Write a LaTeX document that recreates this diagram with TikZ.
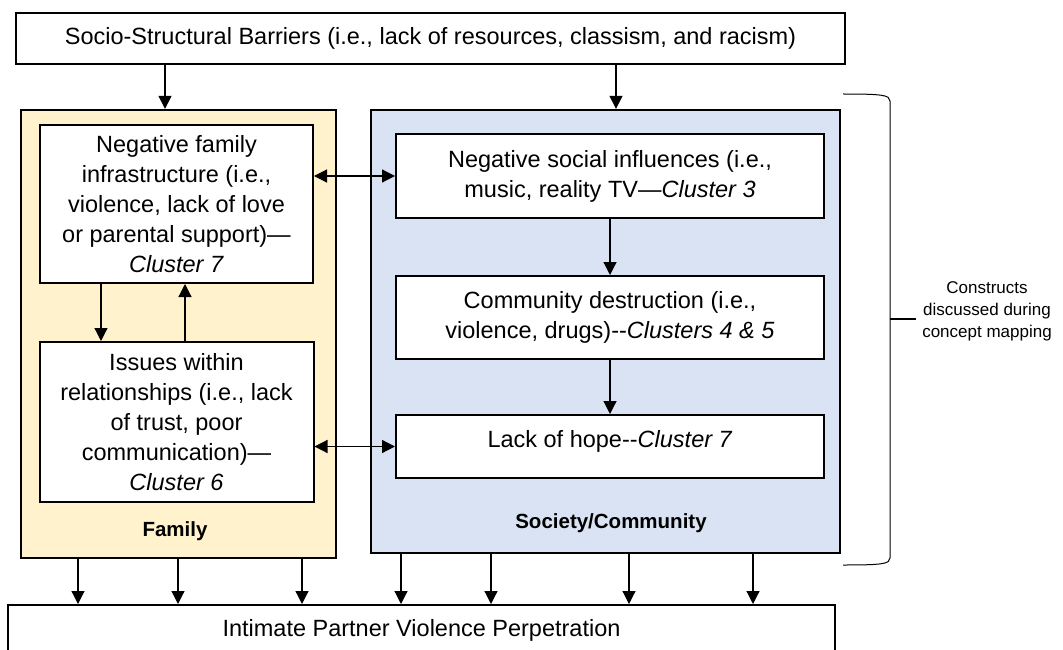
\documentclass[tikz,border=0pt]{standalone}
\usepackage{fontspec}
\setmainfont{Liberation Sans}
\usepackage{tikz}
\usepackage{xcolor}
\usetikzlibrary{shapes,arrows,positioning,calc,arrows.meta}
\definecolor{familyyellow}{RGB}{255,242,204}
\definecolor{societyblue}{RGB}{218,227,243}

\begin{document}
\begin{tikzpicture}[x=1pt, y=-1pt,
    box/.style={draw, rectangle, line width=2pt, fill=white, align=center, inner sep=0pt, font=\fontsize{23.5}{30}\selectfont},
    group/.style={draw, rectangle, line width=2.3pt},
    grouplabel/.style={font=\fontsize{20.5}{24}\selectfont\bfseries},
    arr/.style={-{Triangle[width=13pt,length=13pt]}, line width=1.2pt},
    dblarr/.style={{Triangle[width=13pt,length=13pt]}-{Triangle[width=13pt,length=13pt]}, line width=1.2pt}]
  \useasboundingbox (0,0) rectangle (1063,650);
  % groups
  \node[group, fill=familyyellow, minimum width=315pt, minimum height=448pt] (family) at (178.5,334) {};
  \node[group, fill=societyblue, minimum width=469pt, minimum height=443pt] (society) at (605.5,331.5) {};
  \node[grouplabel] (familylbl) at (175,531) {Family};
  \node[grouplabel] (societylbl) at (611,523) {Society/Community};
  % top and bottom
  \node[box, minimum width=829pt, minimum height=51pt] (barriers) at (430.5,38.5) {Socio-Structural Barriers (i.e., lack of resources, classism, and racism)};
  \node[box, minimum width=827pt, minimum height=50pt] (ipv) at (421.5,630) {Intimate Partner Violence Perpetration};
  % family boxes
  \node[box, minimum width=273pt, minimum height=158pt] (negfam) at (176.5,204) {Negative family\\infrastructure (i.e.,\\violence, lack of love\\or parental support)---\\\textit{Cluster 7}};
  \node[box, minimum width=274pt, minimum height=160pt, below=57pt of negfam] (issues) {Issues within\\relationships (i.e., lack\\of trust, poor\\communication)---\\\textit{Cluster 6}};
  % society boxes
  \node[box, minimum width=428pt, minimum height=84pt] (social) at (610,176) {Negative social influences (i.e.,\\music, reality TV---\textit{Cluster 3}};
  \node[box, minimum width=428pt, minimum height=83pt, below=56pt of social] (community) {Community destruction (i.e.,\\violence, drugs)-{}-\textit{Clusters 4 \& 5}};
  \node[box, minimum width=428pt, minimum height=63pt, text depth=15pt, below=54pt of community] (hope) {Lack of hope-{}-\textit{Cluster 7}};
  % note and brace
  \node[font=\fontsize{17}{22}\selectfont, align=center, inner sep=6pt] (note) at (987,311) {Constructs\\discussed during\\concept mapping};
  \draw[line width=1pt] (843,94) .. controls (882,94) and (890,95) .. (890,101) -- (890,558) .. controls (890,564) and (882,565) .. (843,565);
  \coordinate (bracetip) at (890,319);
  \draw[line width=1.6pt] (bracetip) -- (bracetip -| note.west);
  % arrows
  \draw[arr] (165,0 |- barriers.south) -- (165,0 |- family.north);
  \draw[arr] (616,0 |- barriers.south) -- (616,0 |- society.north);
  \draw[arr] (101,0 |- negfam.south) -- (101,0 |- issues.north);
  \draw[arr] (185,0 |- issues.north) -- (185,0 |- negfam.south);
  \draw[dblarr] (negfam.east |- social.west) -- (social.west);
  \draw[dblarr] (issues.east |- hope.west) -- (hope.west);
  \draw[arr] (social) -- (community);
  \draw[arr] (community) -- (hope);
  \foreach \x in {78,178,302} \draw[arr] (\x,0 |- family.south) -- (\x,0 |- ipv.north);
  \foreach \x in {401,491,629,753} \draw[arr] (\x,0 |- society.south) -- (\x,0 |- ipv.north);
\end{tikzpicture}
\end{document}
